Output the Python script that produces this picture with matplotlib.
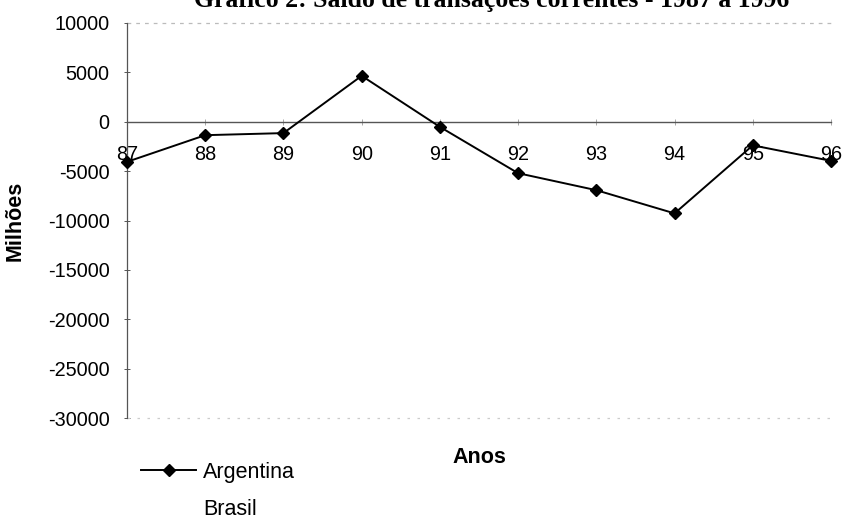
import matplotlib
matplotlib.use("Agg")
import matplotlib.pyplot as plt
from matplotlib.lines import Line2D

# Current account balance, millions
anos = ["87", "88", "89", "90", "91", "92", "93", "94", "95", "96"]
argentina = [-4060, -1360, -1150, 4650, -520, -5210, -6930, -9280, -2390, -3960]
y_ticks = [10000, 5000, 0, -5000, -10000, -15000, -20000, -25000, -30000]
y_tick_labels = ["10000", "5000", "0", "-5000", "-10000", "-15000", "-20000", "-25000", "-30000"]

titulo = "Gráfico 2: Saldo de transações correntes - 1987 a 1996"

plt.rcParams["font.family"] = ["Liberation Sans", "DejaVu Sans"]

W, H = 843, 519
fig = plt.figure(figsize=(W / 100, H / 100), dpi=100)
left, right, top, bottom = 127, 831, 23, 418
ax = fig.add_axes([left / W, 1 - bottom / H, (right - left) / W, (bottom - top) / H])

x = list(range(len(anos)))
line, = ax.plot(x, argentina, color="black", lw=1.4, marker="D", markersize=6.2,
                markerfacecolor="black", markeredgecolor="black", zorder=5, clip_on=False)

ax.set_xlim(0, len(anos) - 1)
ax.set_ylim(y_ticks[-1], y_ticks[0])

# Frame: category axis crosses at zero, faint borders top and bottom
ax.spines["right"].set_visible(False)
ax.spines["top"].set_visible(False)
ax.spines["bottom"].set_position(("data", 0))
ax.spines["bottom"].set_color("#555555")
ax.spines["bottom"].set_linewidth(1.0)
ax.spines["left"].set_color("#555555")
ax.spines["left"].set_linewidth(0.9)
ax.axhline(y_ticks[0], color="#bbbbbb", lw=0.9, ls=(0, (3, 4)), clip_on=False)
ax.axhline(y_ticks[-1], color="#cccccc", lw=0.9, ls=(0, (2, 6)), clip_on=False)

ax.set_yticks(y_ticks)
ax.set_yticklabels(y_tick_labels)
ax.set_xticks(x)
ax.set_xticklabels(anos)
ax.tick_params(axis="y", direction="inout", length=5, width=0.7, color="#555555",
               labelsize=14.3, pad=10)
ax.tick_params(axis="x", direction="inout", length=4, width=0.6, color="#999999",
               labelsize=14.3, pad=15)

ax.set_xlabel("Anos", fontsize=15.5, fontweight="bold")
ax.xaxis.set_label_coords(0.5, -0.073)
ax.set_ylabel("Milhões", fontsize=15.5, fontweight="bold")
ax.yaxis.set_label_coords(-0.1435, 0.5)

fig.text(0.583, 1 - 7 / H, titulo, ha="center", va="baseline",
         fontsize=18.5, fontweight="bold", family=["Liberation Serif", "DejaVu Serif"])

brasil_handle = Line2D([], [], color="white", lw=0)
fig.legend([line, brasil_handle], ["Argentina", "Brasil"],
           loc="upper left", bbox_to_anchor=(141 / W, 1 - 462 / H),
           frameon=False, fontsize=15.5, handlelength=2.56, handletextpad=0.33,
           labelspacing=0.76, borderpad=0, borderaxespad=0)

fig.savefig("out.png", dpi=100, facecolor="white")
